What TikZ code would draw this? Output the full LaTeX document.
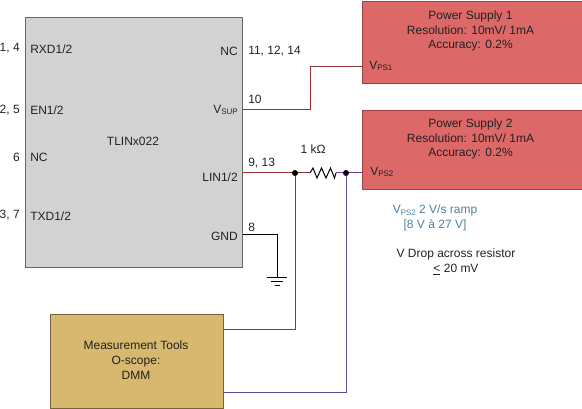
\documentclass[tikz,border=0pt]{standalone}
\usepackage{fontspec}
\setmainfont{Liberation Sans}
\newcommand{\lowtxt}[1]{\raisebox{-0.28ex}{\fontsize{6}{7}\selectfont #1}}
\definecolor{chipfill}{HTML}{D2D2D2}
\definecolor{chipline}{HTML}{666666}
\definecolor{psfill}{HTML}{DC6868}
\definecolor{psline}{HTML}{A04040}
\definecolor{mtfill}{HTML}{D6B86E}
\definecolor{mtline}{HTML}{7A6238}
\definecolor{wirered}{HTML}{953232}
\definecolor{wireblue}{HTML}{5A4F96}
\definecolor{wirepurple}{HTML}{6A3D9A}
\definecolor{notecol}{HTML}{4F7F9B}
\definecolor{txt}{HTML}{222222}
\begin{document}
\begin{tikzpicture}[x=0.75pt,y=-0.75pt,
  every node/.style={font=\fontsize{9}{11}\selectfont,text=txt,inner sep=0pt},
  boxn/.style={draw,line width=1.1pt,minimum width=#1*0.75pt,anchor=north west,align=center},
  lbl/.style={anchor=west},
  lblr/.style={anchor=east},
  wire/.style={line width=0.75pt},
  dot/.style={circle,fill=black,minimum size=4.5pt}]
\useasboundingbox (0,0) rectangle (582,409);
% boxes
\node[boxn=217,fill=chipfill,draw=chipline,minimum height=187.5pt] (chip) at (25,17) {};
\node[boxn=220,fill=psfill,draw=psline,minimum height=61.5pt] (ps1) at (361.5,1) {};
\node[boxn=220,fill=psfill,draw=psline,minimum height=59.25pt] (ps2) at (361.5,110) {};
\node[boxn=173,fill=mtfill,draw=mtline,minimum height=70.5pt] (mt) at (50,314) {};
% box texts
\node[align=center] (ps1t) at (470.5,31) {Power Supply 1\\Resolution: 10mV/ 1mA\\Accuracy: 0.2\%};
\node[align=center] (ps2t) at (470.5,139) {Power Supply 2\\Resolution: 10mV/ 1mA\\Accuracy: 0.2\%};
\node[align=center] (mtt) at (136,360) {Measurement Tools\\O-scope:\\DMM};
\node (chipname) at (133,141) {TLINx022};
\node[lbl] (vps1) at (369,66) {V\lowtxt{PS1}};
\node[lbl] (vps2) at (370,172) {V\lowtxt{PS2}};
% chip pin labels
\node[lbl] (rxd) at (30,49) {RXD1/2};
\node[lbl] (en) at (30,110) {EN1/2};
\node[lbl] (nc1) at (30,157) {NC};
\node[lbl] (txd) at (30,216) {TXD1/2};
\node[lblr] (nc2) at (238,51) {NC};
\node[lblr] (vsup) at (238,110) {V\lowtxt{SUP}};
\node[lblr] (lin) at (238,177) {LIN1/2};
\node[lblr] (gnd) at (238,236) {GND};
% pin numbers
\node[lblr] at (20,48) {1, 4};
\node[lblr] at (20,110) {2, 5};
\node[lblr] at (20,157) {6};
\node[lblr] at (20,215) {3, 7};
\node[lbl] at (248,51) {11, 12, 14};
\node[lbl] at (248,99) {10};
\node[lbl] at (248,163) {9, 13};
\node[lbl] at (248,227) {8};
% notes
\node at (313,149) {1 kΩ};
\node[align=center,text=notecol] (note1) at (435,218) {V\lowtxt{PS2} 2 V/s ramp\\{[}8 V à 27 V{]}};
\node[align=center] (note2) at (456,262) {V Drop across resistor\\\underline{<} 20 mV};
% connection points
\node[dot] (d1) at (295,173) {};
\node[dot] (d2) at (346,173) {};
\coordinate (rl) at (310,173);
\coordinate (rr) at (336,173);
\coordinate (chipS) at (chip.east |- 0,110);
\coordinate (chipL) at (chip.east |- 0,173);
\coordinate (chipG) at (chip.east |- 0,235);
\coordinate (ps1W) at (ps1.west |- 0,67);
\coordinate (ps2W) at (ps2.west |- 0,173);
\coordinate (mtR) at (mt.east |- 0,330);
\coordinate (mtB) at (mt.east |- 0,393);
\coordinate (gt) at (277,278);
% wires
\draw[wire,wirered] (chipS) -- (310,110) -- (310,67) -- (ps1W);
\draw[wire,wirered] (chipL) -- (d1);
\draw[wire,wirered] (d1) -- (rl);
\draw[wire,wirered] (d1) |- (mtR);
\draw[wire,wirepurple] (rr) -- (d2);
\draw[wire,wirepurple] (d2) -- (ps2W);
\draw[wire,wireblue] (d2) |- (mtB);
\draw[wire,black] (rl) -- ++(3,-5) -- ++(4,10) -- ++(4.5,-10) -- ++(4.5,10) -- ++(4.5,-10) -- ++(4,10) -- (rr);
\draw[wire,black] (chipG) -| (gt);
\draw[wire,black] (267,278) -- (287,278) (271,282) -- (283,282) (274.5,285.5) -- (279.5,285.5);
\end{tikzpicture}
\end{document}
